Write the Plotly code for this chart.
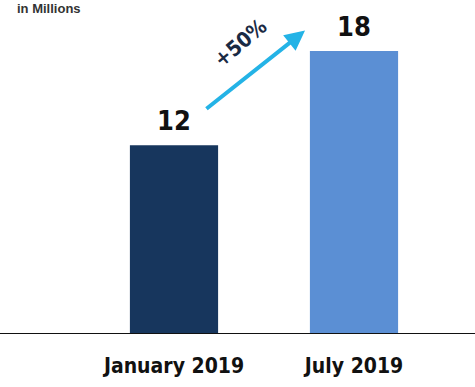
import plotly.graph_objects as go

categories = ["January 2019", "July 2019"]
values = [12, 18]
bar_colors = ["#17365d", "#5b8fd4"]
unit_label = "in Millions"
change_label = "+50%"

FONT = "DejaVu Sans Condensed, DejaVu Sans, sans-serif"

fig = go.Figure()
fig.add_trace(go.Bar(
    x=[0, 1], y=values, width=0.49,
    marker=dict(color=bar_colors, line=dict(width=0)),
    hoverinfo="skip",
))

for i, v in enumerate(values):
    fig.add_annotation(x=i, y=v, text=f"<b>{v}</b>", showarrow=False,
                       yanchor="bottom", yshift=7,
                       font=dict(family=FONT, size=27, color="#111111"))

# growth arrow
fig.add_annotation(x=0.728, y=19.3, ax=0.172, ay=14.25, xref="x", yref="y",
                   axref="x", ayref="y", text="", showarrow=True,
                   arrowhead=2, arrowsize=1.0, arrowwidth=4, arrowcolor="#24b3e6")
fig.add_annotation(x=0.37, y=18.5, text=f"<b>{change_label}</b>", showarrow=False,
                   textangle=-40, font=dict(family=FONT, size=21, color="#1a2a44"))

fig.add_annotation(xref="paper", yref="paper", x=15 / 475, y=1.0, xanchor="left",
                   yanchor="top", yshift=1, text=f"<b>{unit_label}</b>", showarrow=False,
                   font=dict(family="Liberation Sans, Arial, sans-serif", size=13, color="#333333"))

fig.add_shape(type="line", xref="paper", yref="y", x0=0, x1=1, y0=0, y1=0,
              line=dict(color="#111111", width=2))

fig.update_layout(
    width=475, height=387,
    margin=dict(l=0, r=0, t=0, b=53),
    paper_bgcolor="white", plot_bgcolor="white",
    showlegend=False,
    xaxis=dict(range=[-174 / 180, 301 / 180], tickmode="array", tickvals=[0, 1],
               ticktext=[f"<b>{c}</b>" for c in categories], showgrid=False,
               zeroline=False, showline=False, ticks="", ticklabelstandoff=17,
               tickfont=dict(family=FONT, size=21, color="#111111")),
    yaxis=dict(range=[0, 334 / 15.72], visible=False, showgrid=False, zeroline=False),
)

fig.write_html("out.html")
